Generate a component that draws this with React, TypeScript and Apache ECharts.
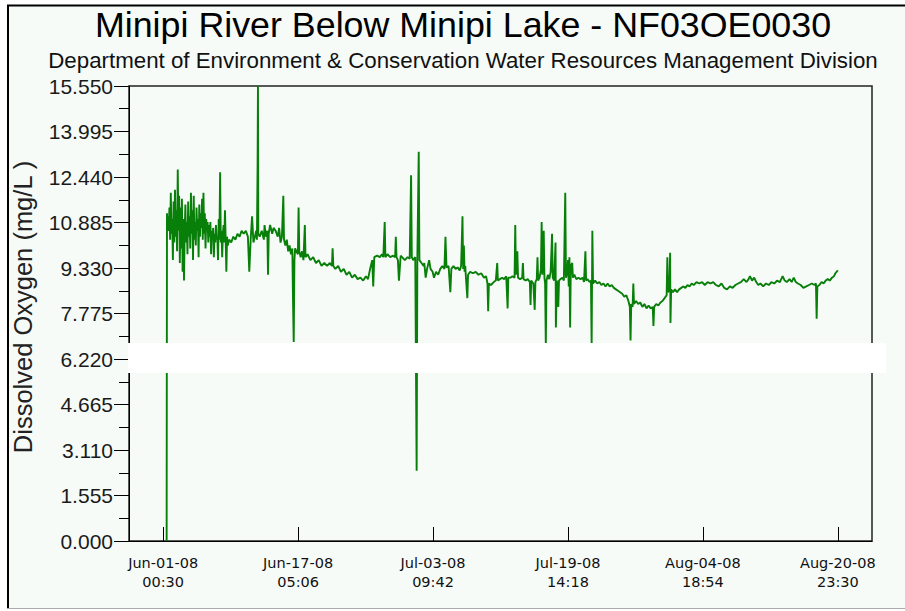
import React, { useEffect, useRef } from "react";
import * as echarts from "echarts";

const titleText = "Minipi River Below Minipi Lake - NF03OE0030";
const subtitleText = "Department of Environment & Conservation Water Resources Management Division";
const yAxisTitle = "Dissolved Oxygen (mg/L )";

// Jun-01-08 00:30 is hour 0
const startYear = 2008, startMonth = 5, startDay = 1, startHour = 0, startMinute = 30;
const xTickHours = [0, 388.6, 777.2, 1165.8, 1554.4, 1943]; // Jun-01 00:30 ... Aug-20 23:30
const axisPadHours = 98.4;

const yMin = 0, yMax = 15.55, yInterval = 1.555;

const readingHours = [
  10, 11, 12, 14, 16, 18, 20, 22, 24, 26, 28, 30, 32, 34, 36, 38, 40, 42, 44, 46, 48, 50, 52, 54, 56, 58, 60,
  62, 64, 66, 68, 70, 72, 74, 76, 78, 80, 82, 84, 86, 88, 90, 92, 94, 96, 98, 100, 102, 104, 106, 108, 110,
  112, 114, 116, 118, 120, 122, 124, 126, 128, 130, 132, 134, 136, 138, 140, 142, 144, 146, 148, 150, 152,
  154, 156, 158, 160, 162, 164, 166, 168, 170, 172, 174, 176, 178, 180, 182, 184, 186, 190, 196, 202, 208,
  214, 220, 226, 232, 238, 244, 248, 252, 256, 260, 264, 268, 270, 272, 273, 274, 278, 284, 290, 292, 296,
  300, 302, 304, 308, 314, 318, 324, 330, 334, 338, 342, 346, 348, 352, 356, 360, 364, 368, 372, 374, 376,
  378, 380, 384, 388, 390, 392, 396, 400, 404, 408, 410, 416, 424, 432, 440, 448, 456, 464, 472, 480, 486,
  488, 490, 496, 504, 512, 520, 528, 536, 544, 552, 560, 568, 576, 584, 590, 596, 602, 605, 608, 616, 624,
  630, 634, 638, 640, 646, 654, 662, 668, 670, 672, 676, 679, 684, 688, 696, 704, 710, 714, 716, 720, 726,
  730, 732, 736, 738, 744, 750, 752, 756, 760, 766, 770, 776, 780, 786, 792, 798, 804, 810, 813, 816, 822,
  827, 830, 836, 842, 848, 854, 858, 860, 862, 864, 866, 868, 870, 872, 876, 878, 884, 892, 900, 908, 916,
  924, 930, 934, 936, 938, 944, 952, 958, 962, 964, 970, 976, 982, 988, 992, 994, 1000, 1006, 1012, 1014,
  1016, 1020, 1022, 1028, 1034, 1036, 1038, 1044, 1050, 1056, 1058, 1060, 1066, 1070, 1072, 1076, 1078,
  1080, 1084, 1088, 1090, 1092, 1096, 1098, 1100, 1102, 1104, 1108, 1112, 1116, 1120, 1122, 1126, 1130,
  1131, 1134, 1138, 1140, 1144, 1150, 1154, 1158, 1160, 1164, 1166, 1168, 1170, 1172, 1174, 1178, 1180,
  1184, 1190, 1196, 1202, 1208, 1212, 1216, 1218, 1222, 1228, 1232, 1234, 1236, 1238, 1244, 1250, 1256,
  1262, 1268, 1274, 1280, 1286, 1292, 1298, 1304, 1310, 1316, 1322, 1328, 1334, 1340, 1344, 1346, 1348,
  1352, 1354, 1356, 1362, 1368, 1374, 1380, 1386, 1392, 1398, 1404, 1410, 1412, 1414, 1420, 1426, 1432,
  1438, 1444, 1450, 1452, 1454, 1458, 1460, 1461, 1463, 1468, 1474, 1480, 1486, 1492, 1498, 1504, 1510,
  1516, 1522, 1528, 1536, 1544, 1552, 1560, 1568, 1576, 1584, 1592, 1600, 1608, 1616, 1624, 1632, 1640,
  1648, 1656, 1664, 1672, 1680, 1686, 1690, 1696, 1702, 1708, 1714, 1720, 1728, 1736, 1744, 1752, 1760,
  1768, 1776, 1784, 1790, 1796, 1804, 1810, 1816, 1822, 1828, 1836, 1844, 1852, 1860, 1868, 1876, 1880,
  1882, 1884, 1890, 1896, 1902, 1908, 1914, 1920, 1926, 1932, 1936, 1943,
];

const dissolvedOxygen = [
  0, 11.2, 10.9, 11.1, 10.6, 11.4, 10.3, 11.9, 10.5, 11.0, 9.6, 11.6, 10.2, 12.0, 10.4, 11.3, 9.9, 12.7, 10.6, 11.8, 9.5, 11.4, 10.0, 11.7, 9.2, 11.0, 8.9,
  10.6, 11.5, 10.2, 10.9, 9.8, 11.6, 10.4, 11.1, 10.0, 11.9, 10.5, 11.3, 9.6, 11.8, 10.3, 10.9, 10.1, 11.4, 10.6, 11.0, 9.7, 11.5, 10.4, 11.2, 10.7,
  11.7, 10.3, 11.9, 10.5, 11.2, 10.0, 11.0, 10.6, 10.9, 10.2, 10.8, 10.4, 10.9, 9.8, 10.6, 10.3, 10.7, 9.7, 10.5, 10.2, 10.8,
  10.3, 10.4, 9.6, 11.0, 10.3, 12.6, 10.2, 10.6, 9.7, 10.5, 10.8, 10.2, 11.3, 10.3, 9.2, 10.4, 10.1, 10.3, 10.2, 10.4, 10.3,
  10.5, 10.4, 10.6, 10.5, 10.6, 10.4, 9.2, 10.3, 11.1, 10.2, 10.4, 10.6, 10.3, 12.9, 15.55, 10.5, 10.4, 10.6, 10.3, 10.8, 10.4,
  10.6, 9.1, 10.5, 10.8, 10.5, 10.7, 10.6, 10.4, 10.7, 10.2, 10.4, 11.8, 10.3, 10.1, 10.3, 9.9, 10.1, 9.8, 10.0, 8.2, 6.8,
  9.6, 10.0, 9.9, 9.8, 11.4, 9.9, 9.7, 9.9, 9.6, 10.8, 9.7, 9.8, 9.6, 9.7, 9.5, 9.6, 9.4, 9.5, 9.4, 9.5, 9.4,
  10.0, 9.4, 9.3, 9.4, 9.2, 9.3, 9.1, 9.2, 9.0, 9.1, 8.95, 9.0, 8.9, 9.05, 8.95, 9.3, 9.6, 8.7, 9.7, 9.75, 9.7,
  9.8, 9.7, 10.9, 9.7, 9.8, 9.7, 9.75, 9.7, 10.4, 9.7, 9.6, 8.9, 9.75, 9.7, 9.6, 9.7, 9.65, 12.5, 9.7, 9.6, 9.7,
  2.4, 9.6, 13.3, 9.6, 9.5, 9.4, 9.5, 9.0, 9.3, 9.6, 9.3, 9.2, 9.0, 9.2, 9.1, 9.3, 9.4, 9.3, 10.4, 9.35, 9.4,
  8.5, 9.3, 9.4, 9.3, 9.35, 9.25, 9.4, 10.2, 11.1, 9.3, 10.1, 9.2, 9.4, 9.0, 8.3, 9.1, 9.2, 9.15, 9.2, 9.1, 9.15,
  9.0, 9.05, 8.8, 7.85, 8.8, 8.75, 8.85, 8.9, 9.5, 8.9, 8.95, 9.0, 8.95, 9.05, 7.95, 9.0, 9.0, 9.05, 9.0, 10.8,
  9.1, 9.9, 9.0, 8.95, 9.0, 9.5, 8.95, 8.9, 8.95, 8.85, 8.07, 8.9, 8.8, 7.9, 8.85, 8.95, 9.7,
  8.9, 9.0, 9.3, 10.9, 9.1, 10.6, 9.0, 8.8, 6.7, 8.9, 9.1, 8.95, 9.2, 10.5, 9.0, 8.9, 10.2,
  7.3, 8.9, 8.0, 8.9, 8.95, 9.0, 8.9, 11.9, 9.0, 9.2, 9.6, 8.7, 9.7, 7.3, 9.4, 9.5, 9.0,
  9.1, 8.95, 9.0, 8.95, 9.0, 8.85, 9.9, 8.9, 8.95, 8.85, 8.9, 6.7, 10.6, 8.8, 8.9, 8.8, 8.85,
  8.75, 8.8, 8.7, 8.8, 8.7, 8.75, 8.65, 8.6, 8.55, 8.5, 8.45, 8.35, 8.4, 8.2, 8.0, 6.85, 8.1,
  8.0, 8.8, 8.1, 8.2, 8.1, 8.15, 8.0, 8.1, 7.95, 8.05, 7.95, 8.0, 7.35, 8.0, 8.1, 8.05, 8.15,
  8.2, 8.3, 8.4, 9.7, 8.5, 8.6, 9.85, 7.45, 8.6, 8.5, 8.6, 8.5, 8.6, 8.65, 8.7, 8.65, 8.75,
  8.7, 8.8, 8.75, 8.85, 8.8, 8.85, 8.75, 8.85, 8.8, 8.85, 8.75, 8.7, 8.8, 8.65, 8.6, 8.7, 8.65,
  8.75, 8.8, 8.85, 8.95, 8.85, 8.95, 9.05, 8.9, 9.0, 8.85, 8.75, 8.8, 8.7, 8.8, 8.75, 8.85, 8.8,
  8.9, 8.85, 9.05, 8.9, 8.85, 8.95, 8.85, 9.0, 8.85, 8.8, 8.75, 8.65, 8.7, 8.75, 8.8, 8.75, 8.8,
  7.6, 8.7, 8.75, 8.85, 8.8, 8.9, 8.95, 8.9, 9.0, 9.05, 9.15, 9.25,
];

const monthNames = ["Jan", "Feb", "Mar", "Apr", "May", "Jun", "Jul", "Aug", "Sep", "Oct", "Nov", "Dec"];
const pad2 = (n: number) => (n < 10 ? "0" + n : "" + n);

function formatHour(h: number): string {
  const base = Date.UTC(startYear, startMonth, startDay, startHour, startMinute);
  const d = new Date(base + Math.round(h * 60) * 60000);
  return (
    monthNames[d.getUTCMonth()] + "-" + pad2(d.getUTCDate()) + "-" + pad2(d.getUTCFullYear() % 100) +
    "\n" + pad2(d.getUTCHours()) + ":" + pad2(d.getUTCMinutes())
  );
}

export default function App() {
  const ref = useRef<HTMLDivElement>(null);
  useEffect(() => {
    if (!ref.current) return;
    const chart = echarts.init(ref.current, null, { renderer: "svg" });
    const seriesData = readingHours.map((h, i) => [h, dissolvedOxygen[i]]);
    const lastHour = xTickHours[xTickHours.length - 1];
    const bg = "#f6fbf8";
    chart.setOption({
      animation: false,
      backgroundColor: "#ffffff",
      grid: {
        left: 129,
        top: 86,
        right: 33,
        bottom: 70,
        containLabel: false,
        outerBoundsMode: "none",
        show: true,
        backgroundColor: bg,
        borderColor: "#222",
        borderWidth: 1.5,
      },
      xAxis: {
        type: "value",
        min: -axisPadHours,
        max: lastHour + axisPadHours,
        axisLine: { show: true, onZero: false, lineStyle: { color: "#000", width: 1 } },
        axisTick: {
          show: true,
          inside: true,
          length: 14,
          customValues: xTickHours,
          lineStyle: { color: "#000", width: 1 },
        },
        splitLine: { show: false },
        axisLabel: {
          customValues: xTickHours,
          margin: 12,
          color: "#111",
          fontFamily: "DejaVu Sans",
          fontSize: 14.5,
          lineHeight: 19,
          formatter: (v: number) => formatHour(v),
        },
      },
      yAxis: {
        type: "value",
        min: yMin,
        max: yMax,
        interval: yInterval,
        axisLine: { show: true, onZero: false, lineStyle: { color: "#000", width: 1 } },
        axisTick: { show: true, inside: false, length: 15, lineStyle: { color: "#000", width: 1 } },
        minorTick: { show: true, splitNumber: 2, length: 10, lineStyle: { color: "#000", width: 1 } },
        splitLine: { show: false },
        minorSplitLine: { show: false },
        axisLabel: {
          margin: 16,
          color: "#1a1a1a",
          fontFamily: "Liberation Sans",
          fontSize: 21,
          formatter: (v: number) => v.toFixed(3),
        },
      },
      series: [
        {
          type: "line",
          data: seriesData,
          showSymbol: false,
          symbol: "none",
          clip: true,
          lineStyle: { color: "#087f08", width: 1.9 },
          z: 3,
        },
      ],
      graphic: [
        {
          type: "rect",
          z: -100,
          silent: true,
          shape: { x: 7, y: 5, width: 898, height: 604 },
          style: { fill: bg },
        },
        {
          type: "line",
          z: 50,
          silent: true,
          shape: { x1: 8, y1: 5, x2: 8, y2: 609 },
          style: { stroke: "#000", lineWidth: 2 },
        },
        {
          type: "line",
          z: 50,
          silent: true,
          shape: { x1: 7, y1: 5.5, x2: 905, y2: 5.5 },
          style: { stroke: "#000", lineWidth: 2 },
        },
        {
          type: "line",
          z: 50,
          silent: true,
          shape: { x1: 7, y1: 608.5, x2: 905, y2: 608.5 },
          style: { stroke: "#aaa", lineWidth: 1 },
        },
        {
          type: "text",
          z: 50,
          silent: true,
          x: 463,
          y: 25,
          style: {
            text: titleText,
            fontFamily: "Liberation Sans",
            fontSize: 35.8,
            fill: "#000",
            align: "center",
            verticalAlign: "middle",
          },
        },
        {
          type: "text",
          z: 50,
          silent: true,
          x: 463,
          y: 60,
          style: {
            text: subtitleText,
            fontFamily: "Liberation Sans",
            fontSize: 22.3,
            fill: "#111",
            align: "center",
            verticalAlign: "middle",
          },
        },
        {
          type: "text",
          z: 50,
          silent: true,
          x: 23,
          y: 307,
          rotation: Math.PI / 2,
          style: {
            text: yAxisTitle,
            fontFamily: "Liberation Sans",
            fontSize: 25.5,
            fill: "#222",
            align: "center",
            verticalAlign: "middle",
          },
        },
        {
          type: "rect",
          z: 100,
          silent: true,
          shape: { x: 128, y: 343, width: 758, height: 30 },
          style: { fill: "#ffffff" },
        },
      ],
    });
    return () => chart.dispose();
  }, []);
  return (
    <div
      ref={ref}
      style={{ position: "fixed", left: 0, top: 0, width: 905, height: 611, background: "#fff" }}
    />
  );
}
